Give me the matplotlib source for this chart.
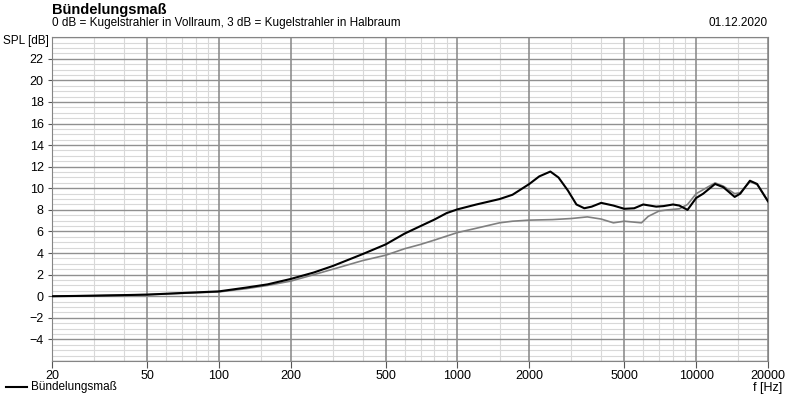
import matplotlib
matplotlib.use('Agg')
import matplotlib.pyplot as plt
from matplotlib.ticker import FixedLocator, NullFormatter, MultipleLocator

# Bündelungsmaß (black)
freq_a = [20, 30, 50, 70, 100, 130, 160, 200, 250, 300, 400, 500, 600, 700, 800,
          900, 1000, 1200, 1500, 1700, 2000, 2200, 2450, 2650, 2900, 3150, 3400,
          3650, 4000, 4500, 5000, 5500, 6000, 6800, 7300, 8000, 8500, 9200, 10000,
          10700, 12000, 13000, 14500, 15300, 16800, 18000, 20000]
di_a = [0.0, 0.05, 0.15, 0.3, 0.45, 0.8, 1.1, 1.6, 2.2, 2.8, 3.9, 4.8, 5.8, 6.5, 7.1,
        7.7, 8.05, 8.5, 9.0, 9.4, 10.4, 11.1, 11.55, 11.0, 9.8, 8.5, 8.15,
        8.3, 8.65, 8.4, 8.1, 8.15, 8.5, 8.3, 8.35, 8.5, 8.4, 8.0, 9.1,
        9.5, 10.4, 10.1, 9.2, 9.5, 10.7, 10.4, 8.8]

# second curve (gray)
freq_b = [20, 50, 100, 130, 160, 200, 250, 300, 400, 500, 600, 700, 800, 1000, 1200,
          1500, 1700, 2000, 2500, 3000, 3500, 4000, 4500, 5000, 5900, 6300, 7000,
          7600, 8500, 9200, 10000, 12000, 13000, 14500, 15300, 16800, 18000, 20000]
di_b = [0.0, 0.15, 0.4, 0.7, 1.0, 1.4, 2.0, 2.5, 3.3, 3.8, 4.4, 4.8, 5.2, 5.9, 6.3,
        6.8, 6.95, 7.05, 7.1, 7.2, 7.35, 7.15, 6.8, 6.95, 6.8, 7.4, 7.9,
        8.0, 8.1, 8.5, 9.5, 10.5, 10.2, 9.5, 9.6, 10.6, 10.35, 8.75]

xticks = [20, 50, 100, 200, 500, 1000, 2000, 5000, 10000, 20000]
xminor = [30, 40, 60, 70, 80, 90, 150, 300, 400, 600, 700, 800, 900, 1500,
          3000, 4000, 6000, 7000, 8000, 9000, 15000]
yticks = list(range(-4, 23, 2))
ymajor_lines = list(range(-6, 25, 2))

plt.rcParams['font.family'] = ['Liberation Sans', 'DejaVu Sans']
fig = plt.figure(figsize=(8, 3.95), dpi=100)
ax = fig.add_axes([0.065, 0.086, 0.895, 0.82])

ax.set_xscale('log')
ax.set_xlim(20, 20000)
ax.set_ylim(-6, 24)

ax.xaxis.set_major_locator(FixedLocator(xticks))
ax.xaxis.set_minor_locator(FixedLocator(xminor))
ax.set_xticklabels([str(t) for t in xticks])
ax.xaxis.set_minor_formatter(NullFormatter())
ax.yaxis.set_major_locator(FixedLocator(yticks))
ax.yaxis.set_minor_locator(MultipleLocator(0.5))

ax.set_axisbelow(True)
ax.grid(which='minor', color='#d8d8d8', linewidth=0.8)
for xv in xticks:
    ax.axvline(xv, color='#858585', linewidth=1.1, zorder=1)
for yv in ymajor_lines:
    ax.axhline(yv, color='#909090', linewidth=1.0, zorder=1)

ax.tick_params(axis='x', which='major', length=5, color='#555555', labelsize=9, pad=1.5)
ax.tick_params(axis='y', which='major', length=3, color='#555555', labelsize=9, pad=3)
ax.tick_params(which='minor', length=0)
for s in ax.spines.values():
    s.set_color('#858585')

ax.plot(freq_b, di_b, color='#808080', linewidth=1.2, zorder=3)
ax.plot(freq_a, di_a, color='black', linewidth=1.5, zorder=4)

fig.text(0.065, 0.975, 'Bündelungsmaß', fontsize=10.5, fontweight='bold', va='center')
fig.text(0.065, 0.942, '0 dB = Kugelstrahler in Vollraum, 3 dB = Kugelstrahler in Halbraum',
         fontsize=8.5, va='center')
fig.text(0.96, 0.942, '01.12.2020', fontsize=8.5, va='center', ha='right')
fig.text(0.061, 0.896, 'SPL [dB]', fontsize=8.5, ha='right', va='center')
fig.text(0.96, 0.018, 'f [Hz]', fontsize=9, ha='center', va='center')

fig.lines.append(plt.Line2D([0.007, 0.034], [0.02, 0.02], color='black',
                            linewidth=1.5, transform=fig.transFigure))
fig.text(0.039, 0.02, 'Bündelungsmaß', fontsize=8.5, va='center')

fig.savefig('out.png', dpi=100)
